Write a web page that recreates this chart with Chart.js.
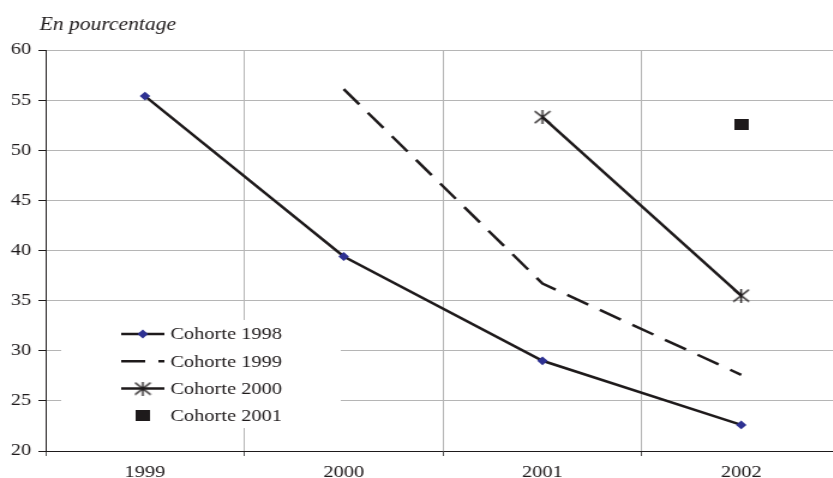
<!DOCTYPE html>
<html>
<head>
<meta charset="utf-8">
<script src="https://cdn.jsdelivr.net/npm/chart.js@4/dist/chart.umd.min.js"></script>
<style>
  html, body { margin: 0; padding: 0; background: #fff; overflow: hidden; }
  #c { display: block; transform: scaleX(1.2); transform-origin: 0 0; }
</style>
</head>
<body>
<canvas id="c" width="710" height="478"></canvas>
<script>
// Taux par cohorte, en pourcentage
const years = ['1999', '2000', '2001', '2002'];
const cohorte1998 = [55.4, 39.4, 29.0, 22.6];
const cohorte1999 = [null, 56.1, 36.7, 27.6];
const cohorte2000 = [null, null, 53.3, 35.5];
const cohorte2001 = [null, null, null, 52.6];
const seriesNames = ['Cohorte 1998', 'Cohorte 1999', 'Cohorte 2000', 'Cohorte 2001'];
const yTicks = [20, 25, 30, 35, 40, 45, 50, 55, 60];

const INK = '#1e1a1b';
const GRID = '#b5b5b5';
const SERIF = "'Liberation Serif', 'Times New Roman', serif";

// Asterisk marker: an X plus a vertical bar
function makeStar() {
  const cv = document.createElement('canvas');
  cv.width = 15; cv.height = 14;
  const g = cv.getContext('2d');
  g.strokeStyle = INK; g.lineWidth = 1.4;
  g.beginPath();
  g.moveTo(1, 1); g.lineTo(14, 13);
  g.moveTo(14, 1); g.lineTo(1, 13);
  g.moveTo(7.5, 0); g.lineTo(7.5, 14);
  g.stroke();
  return cv;
}
// Filled block marker
function makeBlock() {
  const cv = document.createElement('canvas');
  cv.width = 12; cv.height = 11;
  const g = cv.getContext('2d');
  g.fillStyle = INK;
  g.fillRect(0, 0, 12, 11);
  return cv;
}
const starImg = makeStar();
const blockImg = makeBlock();

// Heading above the plot
const headingPlugin = {
  id: 'heading',
  afterDraw(chart) {
    const ctx = chart.ctx;
    ctx.save();
    ctx.font = "italic 18px " + SERIF;
    ctx.fillStyle = INK;
    ctx.textBaseline = 'alphabetic';
    ctx.textAlign = 'left';
    ctx.fillText('En pourcentage', chart.chartArea.left - 5, 30);
    ctx.restore();
  }
};

// Legend box placed inside the plot, lower left
const boxLegendPlugin = {
  id: 'boxLegend',
  afterDatasetsDraw(chart) {
    const ctx = chart.ctx;
    const a = chart.chartArea;
    const left = a.left + 13, top = a.top + 270;
    const w = 233, h = 108;
    ctx.save();
    ctx.fillStyle = '#fff';
    ctx.fillRect(left, top, w, h);
    const lineX0 = left + 50, lineX1 = left + 86, textX = left + 91;
    chart.data.datasets.forEach((ds, i) => {
      const y = top + 14 + i * 27.3;
      if (ds.showLine !== false) {
        ctx.beginPath();
        ctx.strokeStyle = ds.borderColor;
        ctx.lineWidth = ds.borderWidth;
        ctx.setLineDash(ds.borderDash || []);
        ctx.moveTo(lineX0, y);
        ctx.lineTo(lineX1, y);
        ctx.stroke();
        ctx.setLineDash([]);
      }
      const cx = (lineX0 + lineX1) / 2;
      if (ds.pointStyle instanceof HTMLCanvasElement) {
        ctx.drawImage(ds.pointStyle, cx - ds.pointStyle.width / 2, y - ds.pointStyle.height / 2);
      } else if (ds.pointRadius > 0) {
        ctx.fillStyle = ds.pointBackgroundColor;
        ctx.strokeStyle = ds.pointBorderColor;
        Chart.helpers.drawPoint(ctx, {pointStyle: ds.pointStyle, radius: ds.pointRadius, borderWidth: 0, rotation: 0}, cx, y);
      }
      ctx.fillStyle = INK;
      ctx.font = "17px " + SERIF;
      ctx.textBaseline = 'middle';
      ctx.textAlign = 'left';
      ctx.fillText(ds.label, textX, y + 1);
    });
    ctx.restore();
  }
};

// separator lines only between/before categories, none after the last one
const isTick = (c) => c.type === 'tick';

new Chart(document.getElementById('c'), {
  type: 'line',
  data: {
    labels: years,
    datasets: [
      {
        label: seriesNames[0], data: cohorte1998,
        borderColor: INK, borderWidth: 2.5,
        pointStyle: 'rectRot', pointRadius: 4.4, pointHoverRadius: 4.4,
        pointBackgroundColor: '#2e3192', pointBorderColor: '#2e3192', pointBorderWidth: 0
      },
      {
        label: seriesNames[1], data: cohorte1999,
        borderColor: INK, borderWidth: 2.5, borderDash: [20, 11],
        pointRadius: 0, pointHoverRadius: 0
      },
      {
        label: seriesNames[2], data: cohorte2000,
        borderColor: INK, borderWidth: 2.5,
        pointStyle: starImg, pointRadius: 7
      },
      {
        label: seriesNames[3], data: cohorte2001,
        showLine: false, borderColor: INK, borderWidth: 0,
        pointStyle: blockImg, pointRadius: 6
      }
    ]
  },
  options: {
    responsive: false,
    animation: false,
    devicePixelRatio: 1,
    layout: { padding: { top: 50, left: 0, right: 0, bottom: 0 } },
    plugins: {
      legend: { display: false },
      title: { display: false },
      tooltip: { enabled: false }
    },
    elements: { line: { tension: 0 } },
    scales: {
      x: {
        type: 'category',
        offset: true,
        grid: {
          offset: true, lineWidth: 1,
          color: (c) => isTick(c) ? GRID : 'rgba(0,0,0,0)',
          drawTicks: true, tickLength: 5,
          tickColor: (c) => isTick(c) ? '#555' : 'rgba(0,0,0,0)'
        },
        border: { display: true, color: INK, width: 1 },
        ticks: { padding: 6, font: { size: 17, family: SERIF }, color: INK, maxRotation: 0 },
        afterFit(scale) { scale.height = 27; }
      },
      y: {
        min: 20, max: 60,
        afterBuildTicks(scale) { scale.ticks = yTicks.map(v => ({ value: v })); },
        grid: {
          color: GRID, lineWidth: 1,
          drawTicks: true, tickLength: 6, tickColor: INK
        },
        border: { display: true, color: INK, width: 1 },
        ticks: { padding: 6, font: { size: 17, family: SERIF }, color: INK },
        afterFit(scale) { scale.width = 38; }
      }
    }
  },
  plugins: [headingPlugin, boxLegendPlugin]
});
</script>
</body>
</html>
